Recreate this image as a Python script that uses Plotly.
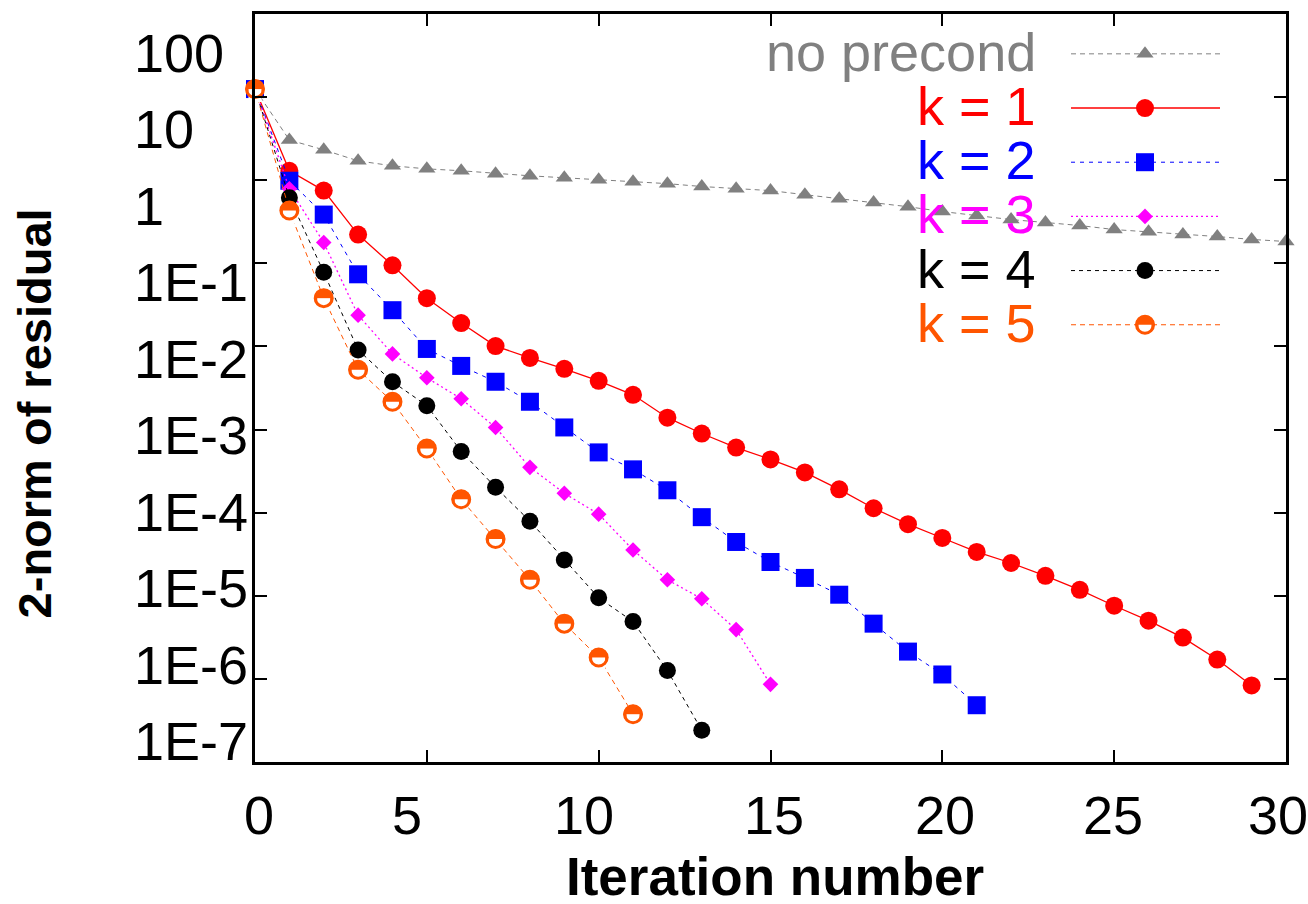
import plotly.graph_objects as go

# ---------------- data ----------------
no_precond = [12.5, 3.05, 2.32, 1.71, 1.49, 1.37, 1.30, 1.20, 1.13, 1.07, 1.01,
              0.96, 0.91, 0.84, 0.79, 0.75, 0.67, 0.60, 0.54, 0.48, 0.42,
              0.376, 0.336, 0.31, 0.285, 0.255, 0.24, 0.222, 0.21, 0.194, 0.183]
k1 = [12.5, 1.30, 0.75, 0.222, 0.0946, 0.0381, 0.0191, 0.0101, 0.00728, 0.00538,
      0.00386, 0.00262, 0.00139, 0.000896, 0.000608, 0.000437, 0.000305, 0.000191,
      0.000113, 7.28e-5, 4.96e-5, 3.37e-5, 2.48e-5, 1.74e-5, 1.18e-5, 7.59e-6,
      5.02e-6, 3.14e-6, 1.71e-6, 8.35e-7]
k2 = [12.5, 0.986, 0.386, 0.0738, 0.0273, 0.00933, 0.00583, 0.00376, 0.00216,
      0.00106, 0.000531, 0.000332, 0.000186, 8.83e-5, 4.44e-5, 2.55e-5, 1.64e-5,
      1.03e-5, 4.62e-6, 2.13e-6, 1.13e-6, 4.82e-7]
k3 = [12.5, 0.79, 0.178, 0.0238, 0.00813, 0.0042, 0.00235, 0.00106, 0.000351,
      0.000171, 9.6e-5, 3.56e-5, 1.56e-5, 9.2e-6, 3.92e-6, 8.6e-7]
k4 = [12.5, 0.617, 0.078, 0.00908, 0.00376, 0.00194, 0.000546, 0.000202, 7.9e-5,
      2.7e-5, 9.46e-6, 4.89e-6, 1.26e-6, 2.41e-7]
k5 = [12.5, 0.432, 0.0381, 0.00524, 0.00216, 0.000591, 0.000145, 4.82e-5,
      1.56e-5, 4.62e-6, 1.81e-6, 3.76e-7]

series_names = ["no precond", "k = 1", "k = 2", "k = 3", "k = 4", "k = 5"]
series_values = [no_precond, k1, k2, k3, k4, k5]

x_tick_vals = [0, 5, 10, 15, 20, 25, 30]
x_tick_text = ["0", "5", "10", "15", "20", "25", "30"]
y_tick_vals = [100, 10, 1, 1e-1, 1e-2, 1e-3, 1e-4, 1e-5, 1e-6, 1e-7]
y_tick_text = ["100", "10", "1", "1E-1", "1E-2", "1E-3", "1E-4", "1E-5", "1E-6", "1E-7"]

x_title = "Iteration number"
y_title = "2-norm of residual"

# ---------------- styles ----------------
ORANGE = "#ff5500"
styles = [
    dict(color="#808080", symbol="triangle-up", size=15, dash="5px,4px", width=1),
    dict(color="#ff0000", symbol="circle", size=18, dash="solid", width=1.3),
    dict(color="#0000ff", symbol="square", size=18, dash="4px,5px", width=1),
    dict(color="#ff00ff", symbol="diamond", size=12, dash="2px,3px", width=1.3),
    dict(color="#000000", symbol="circle", size=17, dash="4px,4px", width=1),
    dict(color=ORANGE, symbol="halfcircle", size=19, dash="5px,4px", width=1),
]

FONT = "Liberation Sans, Arial, sans-serif"

# plot-area geometry (pixels in the 1308x904 page)
W, H = 1308, 904
L, R, T, B = 255, 22, 11, 142
PW, PH = W - L - R, H - T - B


def px_to_paper_x(px):
    return (px - L) / PW


def px_to_paper_y(py):
    return (H - B - py) / PH


fig = go.Figure()


def add_series(x, y, st, name, xaxis="x", yaxis="y"):
    if st["symbol"] != "halfcircle":
        fig.add_trace(go.Scatter(
            x=x, y=y, mode="lines+markers", name=name, showlegend=False,
            xaxis=xaxis, yaxis=yaxis, cliponaxis=False,
            line=dict(color=st["color"], width=st["width"], dash=st["dash"]),
            marker=dict(symbol=st["symbol"], size=st["size"], color=st["color"],
                        line=dict(width=0)),
        ))
    else:
        s = st["size"]
        inner = s - 6
        # line + filled disc
        fig.add_trace(go.Scatter(
            x=x, y=y, mode="lines+markers", name=name, showlegend=False,
            xaxis=xaxis, yaxis=yaxis, cliponaxis=False,
            line=dict(color=st["color"], width=st["width"], dash=st["dash"]),
            marker=dict(symbol="circle", size=s, color=st["color"], line=dict(width=0)),
        ))
        # white lower half
        fig.add_trace(go.Scatter(
            x=x, y=y, mode="markers", showlegend=False, hoverinfo="skip",
            xaxis=xaxis, yaxis=yaxis, cliponaxis=False,
            marker=dict(symbol="square", size=inner, color="white",
                        standoff=inner / 2, line=dict(width=0)),
        ))
        # ring
        fig.add_trace(go.Scatter(
            x=x, y=y, mode="markers", showlegend=False, hoverinfo="skip",
            xaxis=xaxis, yaxis=yaxis, cliponaxis=False,
            marker=dict(symbol="circle-open", size=s - 2, color=st["color"],
                        line=dict(width=3, color=st["color"])),
        ))


for name, vals, st in zip(series_names, series_values, styles):
    add_series(list(range(len(vals))), vals, st, name)

# ---------------- hand-made legend (text on the left of the sample) ----------------
row0, row_step = 51, 54.4
sample_x0 = px_to_paper_x(1071)
sample_x1 = px_to_paper_x(1220)
sample_xm = px_to_paper_x(1145)
text_right = px_to_paper_x(1038)
annotations = []
for i, (name, st) in enumerate(zip(series_names, styles)):
    yc = px_to_paper_y(row0 + row_step * i)
    fig.add_trace(go.Scatter(
        x=[sample_x0, sample_x1], y=[yc, yc], mode="lines", showlegend=False,
        xaxis="x2", yaxis="y2", hoverinfo="skip", cliponaxis=False,
        line=dict(color=st["color"], width=st["width"], dash=st["dash"]),
    ))
    add_series([sample_xm], [yc], st, name, xaxis="x2", yaxis="y2")
    annotations.append(dict(
        x=text_right, y=px_to_paper_y(row0 + row_step * i - 2), xref="paper", yref="paper",
        xanchor="right", yanchor="middle", text=name, showarrow=False,
        font=dict(family=FONT, size=54, color=st["color"]),
    ))

# ---------------- y tick labels (placed as in the reference) ----------------
lab0, lab_step = 50, 76.8
for i, t in enumerate(y_tick_text):
    annotations.append(dict(
        x=px_to_paper_x(132), y=px_to_paper_y(lab0 + lab_step * i),
        xref="paper", yref="paper", xanchor="left", yanchor="middle",
        text=t, showarrow=False, font=dict(family=FONT, size=54, color="black"),
    ))

# ---------------- x tick labels (placed as in the reference) ----------------
x_label_px = [259, 407, 584, 774, 945, 1113, 1278]
for t, px in zip(x_tick_text, x_label_px):
    annotations.append(dict(
        x=px_to_paper_x(px), y=px_to_paper_y(815),
        xref="paper", yref="paper", xanchor="center", yanchor="middle",
        text=t, showarrow=False, font=dict(family=FONT, size=54, color="black"),
    ))

# axis titles
annotations.append(dict(
    x=px_to_paper_x(775), y=px_to_paper_y(877), xref="paper", yref="paper",
    xanchor="center", yanchor="middle", text="<b>" + x_title + "</b>",
    showarrow=False, font=dict(family=FONT, size=53, color="black"),
))
annotations.append(dict(
    x=px_to_paper_x(34), y=px_to_paper_y(412), xref="paper", yref="paper",
    xanchor="center", yanchor="middle", text="<b>" + y_title + "</b>",
    textangle=-90, showarrow=False, font=dict(family=FONT, size=47, color="black"),
))

fig.update_layout(
    width=W, height=H,
    margin=dict(l=L, r=R, t=T, b=B, pad=0),
    paper_bgcolor="white", plot_bgcolor="white",
    showlegend=False,
    annotations=annotations,
    xaxis=dict(
        range=[0, 30], tickvals=x_tick_vals, showticklabels=False,
        ticks="inside", ticklen=12, tickwidth=2, tickcolor="black",
        showline=True, linewidth=2.5, linecolor="black", mirror="ticks",
        showgrid=False, zeroline=False,
    ),
    yaxis=dict(
        type="log", range=[-7, 2], tickvals=y_tick_vals, showticklabels=False,
        ticks="inside", ticklen=12, tickwidth=2, tickcolor="black",
        showline=True, linewidth=2.5, linecolor="black", mirror="ticks",
        showgrid=False, zeroline=False,
    ),
    xaxis2=dict(overlaying="x", range=[0, 1], visible=False),
    yaxis2=dict(overlaying="y", range=[0, 1], visible=False),
)

fig.write_html("out.html")
